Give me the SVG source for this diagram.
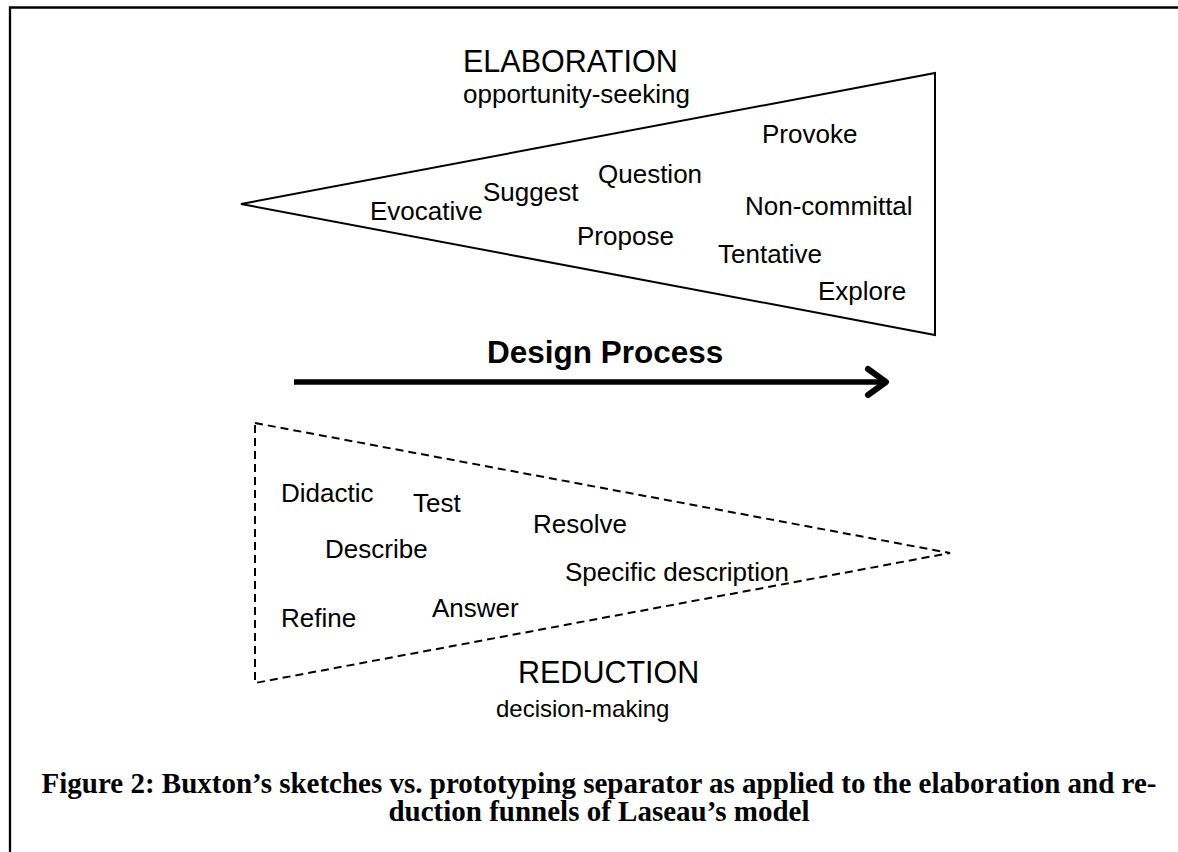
<svg xmlns="http://www.w3.org/2000/svg" width="1178" height="852" viewBox="0 0 1178 852">
  <style>
    .frame { stroke: #000; stroke-width: 2.3; fill: none; }
    .funnel { stroke: #000; stroke-width: 2; fill: #fff; stroke-linejoin: miter; }
    .funnel.dashed { stroke-dasharray: 8 5; fill: none; }
    .word { font-family: "Liberation Sans", Arial, sans-serif; font-size: 26px; fill: #000; }
    .head { font-family: "Liberation Sans", Arial, sans-serif; font-size: 30.5px; fill: #000; }
    .sub { font-family: "Liberation Sans", Arial, sans-serif; font-size: 26px; fill: #000; }
    .process { font-family: "Liberation Sans", Arial, sans-serif; font-size: 31.5px; font-weight: bold; fill: #000; }
    .caption { font-family: "Liberation Serif", "Times New Roman", serif; font-size: 29px; font-weight: bold; fill: #000; text-anchor: middle; }
    .flow { stroke: #000; stroke-width: 5.5; fill: none; stroke-linecap: butt; }
    .flowhead { stroke: #000; stroke-width: 6; fill: none; stroke-linecap: round; stroke-linejoin: round; }
  </style>

  <rect width="1178" height="852" fill="#fff"/>

  <!-- page frame: top and left rules only -->
  <g id="frame">
    <path class="frame" d="M10,852 V7.5 H1178"/>
  </g>

  <!-- elaboration funnel: opens to the right -->
  <g id="elaboration">
    <polygon class="funnel" points="241,204 935,73 935,335"/>
    <text class="head" x="463" y="72">ELABORATION</text>
    <text class="sub" x="463" y="103">opportunity-seeking</text>
    <text class="word" x="762" y="143">Provoke</text>
    <text class="word" x="598" y="183">Question</text>
    <text class="word" x="483" y="201">Suggest</text>
    <text class="word" x="370" y="220">Evocative</text>
    <text class="word" x="745" y="215">Non-committal</text>
    <text class="word" x="577" y="245">Propose</text>
    <text class="word" x="718" y="263">Tentative</text>
    <text class="word" x="818" y="300">Explore</text>
  </g>

  <!-- design process arrow -->
  <g id="connectors">
    <text class="process" x="487" y="363">Design Process</text>
    <line class="flow" x1="294" y1="382" x2="884" y2="382"/>
    <polyline class="flowhead" points="868,369 886,382 868,395"/>
  </g>

  <!-- reduction funnel: narrows to the right, dashed outline -->
  <g id="reduction">
    <polygon class="funnel dashed" points="255,423 950,553 255,683"/>
    <text class="word" x="281" y="502">Didactic</text>
    <text class="word" x="413" y="512">Test</text>
    <text class="word" x="533" y="533">Resolve</text>
    <text class="word" x="325" y="558">Describe</text>
    <text class="word" x="565" y="581">Specific description</text>
    <text class="word" x="432" y="617">Answer</text>
    <text class="word" x="281" y="627">Refine</text>
    <text class="head" x="518" y="683">REDUCTION</text>
    <text class="sub" x="496" y="717" style="font-size:24px">decision-making</text>
  </g>

  <!-- figure caption -->
  <g id="caption">
    <text class="caption" x="599" y="793">Figure 2: Buxton’s sketches vs. prototyping separator as applied to the elaboration and re-</text>
    <text class="caption" x="599" y="821">duction funnels of Laseau’s model</text>
  </g>
</svg>
